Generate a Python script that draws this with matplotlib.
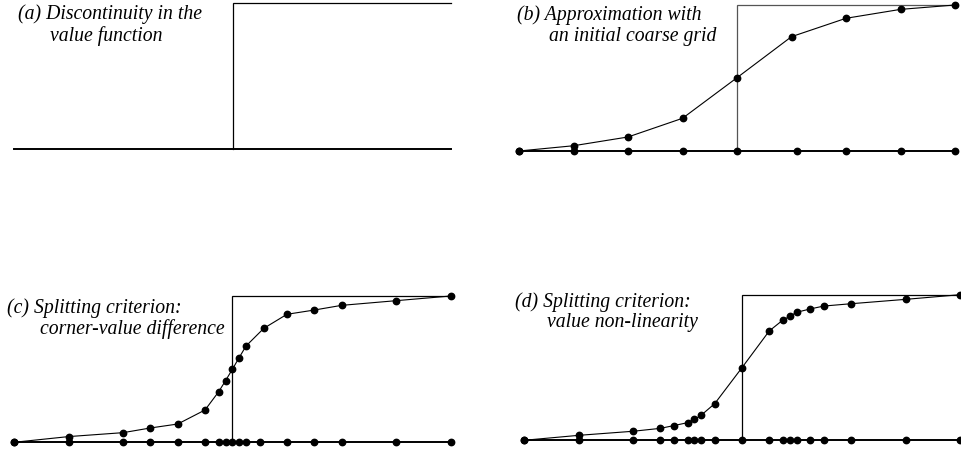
import matplotlib
matplotlib.use("Agg")
import matplotlib.pyplot as plt

W, H = 961, 453

# panel titles (two lines each)
TITLES = {
    "a": ("(a) Discontinuity in the", "value function"),
    "b": ("(b) Approximation with", "an initial coarse grid"),
    "c": ("(c) Splitting criterion:", "corner-value difference"),
    "d": ("(d) Splitting criterion:", "value non-linearity"),
}

# step (discontinuity) location, normalized
STEP_X = 0.5

# (b) coarse grid
b_grid_x = [0, 0.125, 0.25, 0.375, 0.5, 0.638, 0.75, 0.875, 1.0]
b_curve_x = [0, 0.125, 0.25, 0.375, 0.5, 0.625, 0.75, 0.875, 1.0]
b_curve_y = [0, 0.036, 0.096, 0.224, 0.502, 0.783, 0.909, 0.970, 1.0]

# (c) corner-value difference refinement
c_grid_x = [0, 0.125, 0.25, 0.3125, 0.375, 0.4375, 0.46875, 0.484375, 0.5,
            0.515625, 0.53125, 0.5625, 0.625, 0.6875, 0.75, 0.875, 1.0]
c_curve_x = [0, 0.125, 0.25, 0.3125, 0.375, 0.4375, 0.46875, 0.484375, 0.5,
             0.515625, 0.53125, 0.572, 0.625, 0.6875, 0.75, 0.875, 1.0]
c_curve_y = [0, 0.039, 0.066, 0.098, 0.125, 0.221, 0.346, 0.421, 0.499,
             0.579, 0.658, 0.779, 0.875, 0.904, 0.936, 0.968, 1.0]

# (d) value non-linearity refinement
d_grid_x = [0, 0.125, 0.25, 0.3125, 0.34375, 0.375, 0.390625, 0.40625, 0.4375,
            0.5, 0.5625, 0.59375, 0.609375, 0.625, 0.65625, 0.6875, 0.75, 0.875, 1.0]
d_curve_x = d_grid_x
d_curve_y = [0, 0.034, 0.062, 0.082, 0.101, 0.121, 0.144, 0.172, 0.252,
             0.499, 0.751, 0.826, 0.851, 0.879, 0.902, 0.922, 0.938, 0.968, 1.0]


def make_axes(fig, x0, x1, ybot, ytop):
    # pixel box -> figure fraction
    ax = fig.add_axes([x0 / W, 1 - ybot / H, (x1 - x0) / W, (ybot - ytop) / H])
    ax.set_xlim(0, 1)
    ax.set_ylim(0, 1)
    ax.axis("off")
    return ax


def draw_step(ax, color="black"):
    ax.plot([STEP_X, STEP_X, 1.0], [0, 1, 1], color=color, lw=0.9,
            clip_on=False, solid_joinstyle="miter")


def draw_panel(ax, grid_x, curve_x, curve_y, step_color="black"):
    draw_step(ax, step_color)
    ax.plot([0, 1], [0, 0], color="black", lw=1.4, clip_on=False)
    ax.plot(grid_x, [0] * len(grid_x), "o", color="black", ms=4.6, clip_on=False)
    ax.plot(curve_x, curve_y, "-o", color="black", lw=0.8, ms=4.6, clip_on=False)


def title(fig, x1, y1, x2, y2, lines):
    kw = dict(family="Liberation Serif", style="italic", fontsize=14.2, va="center", ha="left")
    fig.text(x1 / W, 1 - y1 / H, lines[0], **kw)
    fig.text(x2 / W, 1 - y2 / H, lines[1], **kw)


def main():
    fig = plt.figure(figsize=(W / 100, H / 100), dpi=100)

    ax_a = make_axes(fig, 14, 451, 149, 3)
    draw_step(ax_a)
    ax_a.plot([0, 1], [0, 0], color="black", lw=1.4, clip_on=False)

    ax_b = make_axes(fig, 519, 955, 151, 5)
    draw_panel(ax_b, b_grid_x, b_curve_x, b_curve_y, step_color="#555555")

    ax_c = make_axes(fig, 14, 450.7, 442.3, 296)
    draw_panel(ax_c, c_grid_x, c_curve_x, c_curve_y)

    ax_d = make_axes(fig, 524, 960, 440.3, 294.7)
    draw_panel(ax_d, d_grid_x, d_curve_x, d_curve_y)

    title(fig, 18, 14, 50, 36, TITLES["a"])
    title(fig, 517, 15, 549, 37, TITLES["b"])
    title(fig, 7, 308, 40, 329, TITLES["c"])
    title(fig, 515, 302, 547, 323, TITLES["d"])

    fig.savefig("out.png", dpi=100)


if __name__ == "__main__":
    main()
